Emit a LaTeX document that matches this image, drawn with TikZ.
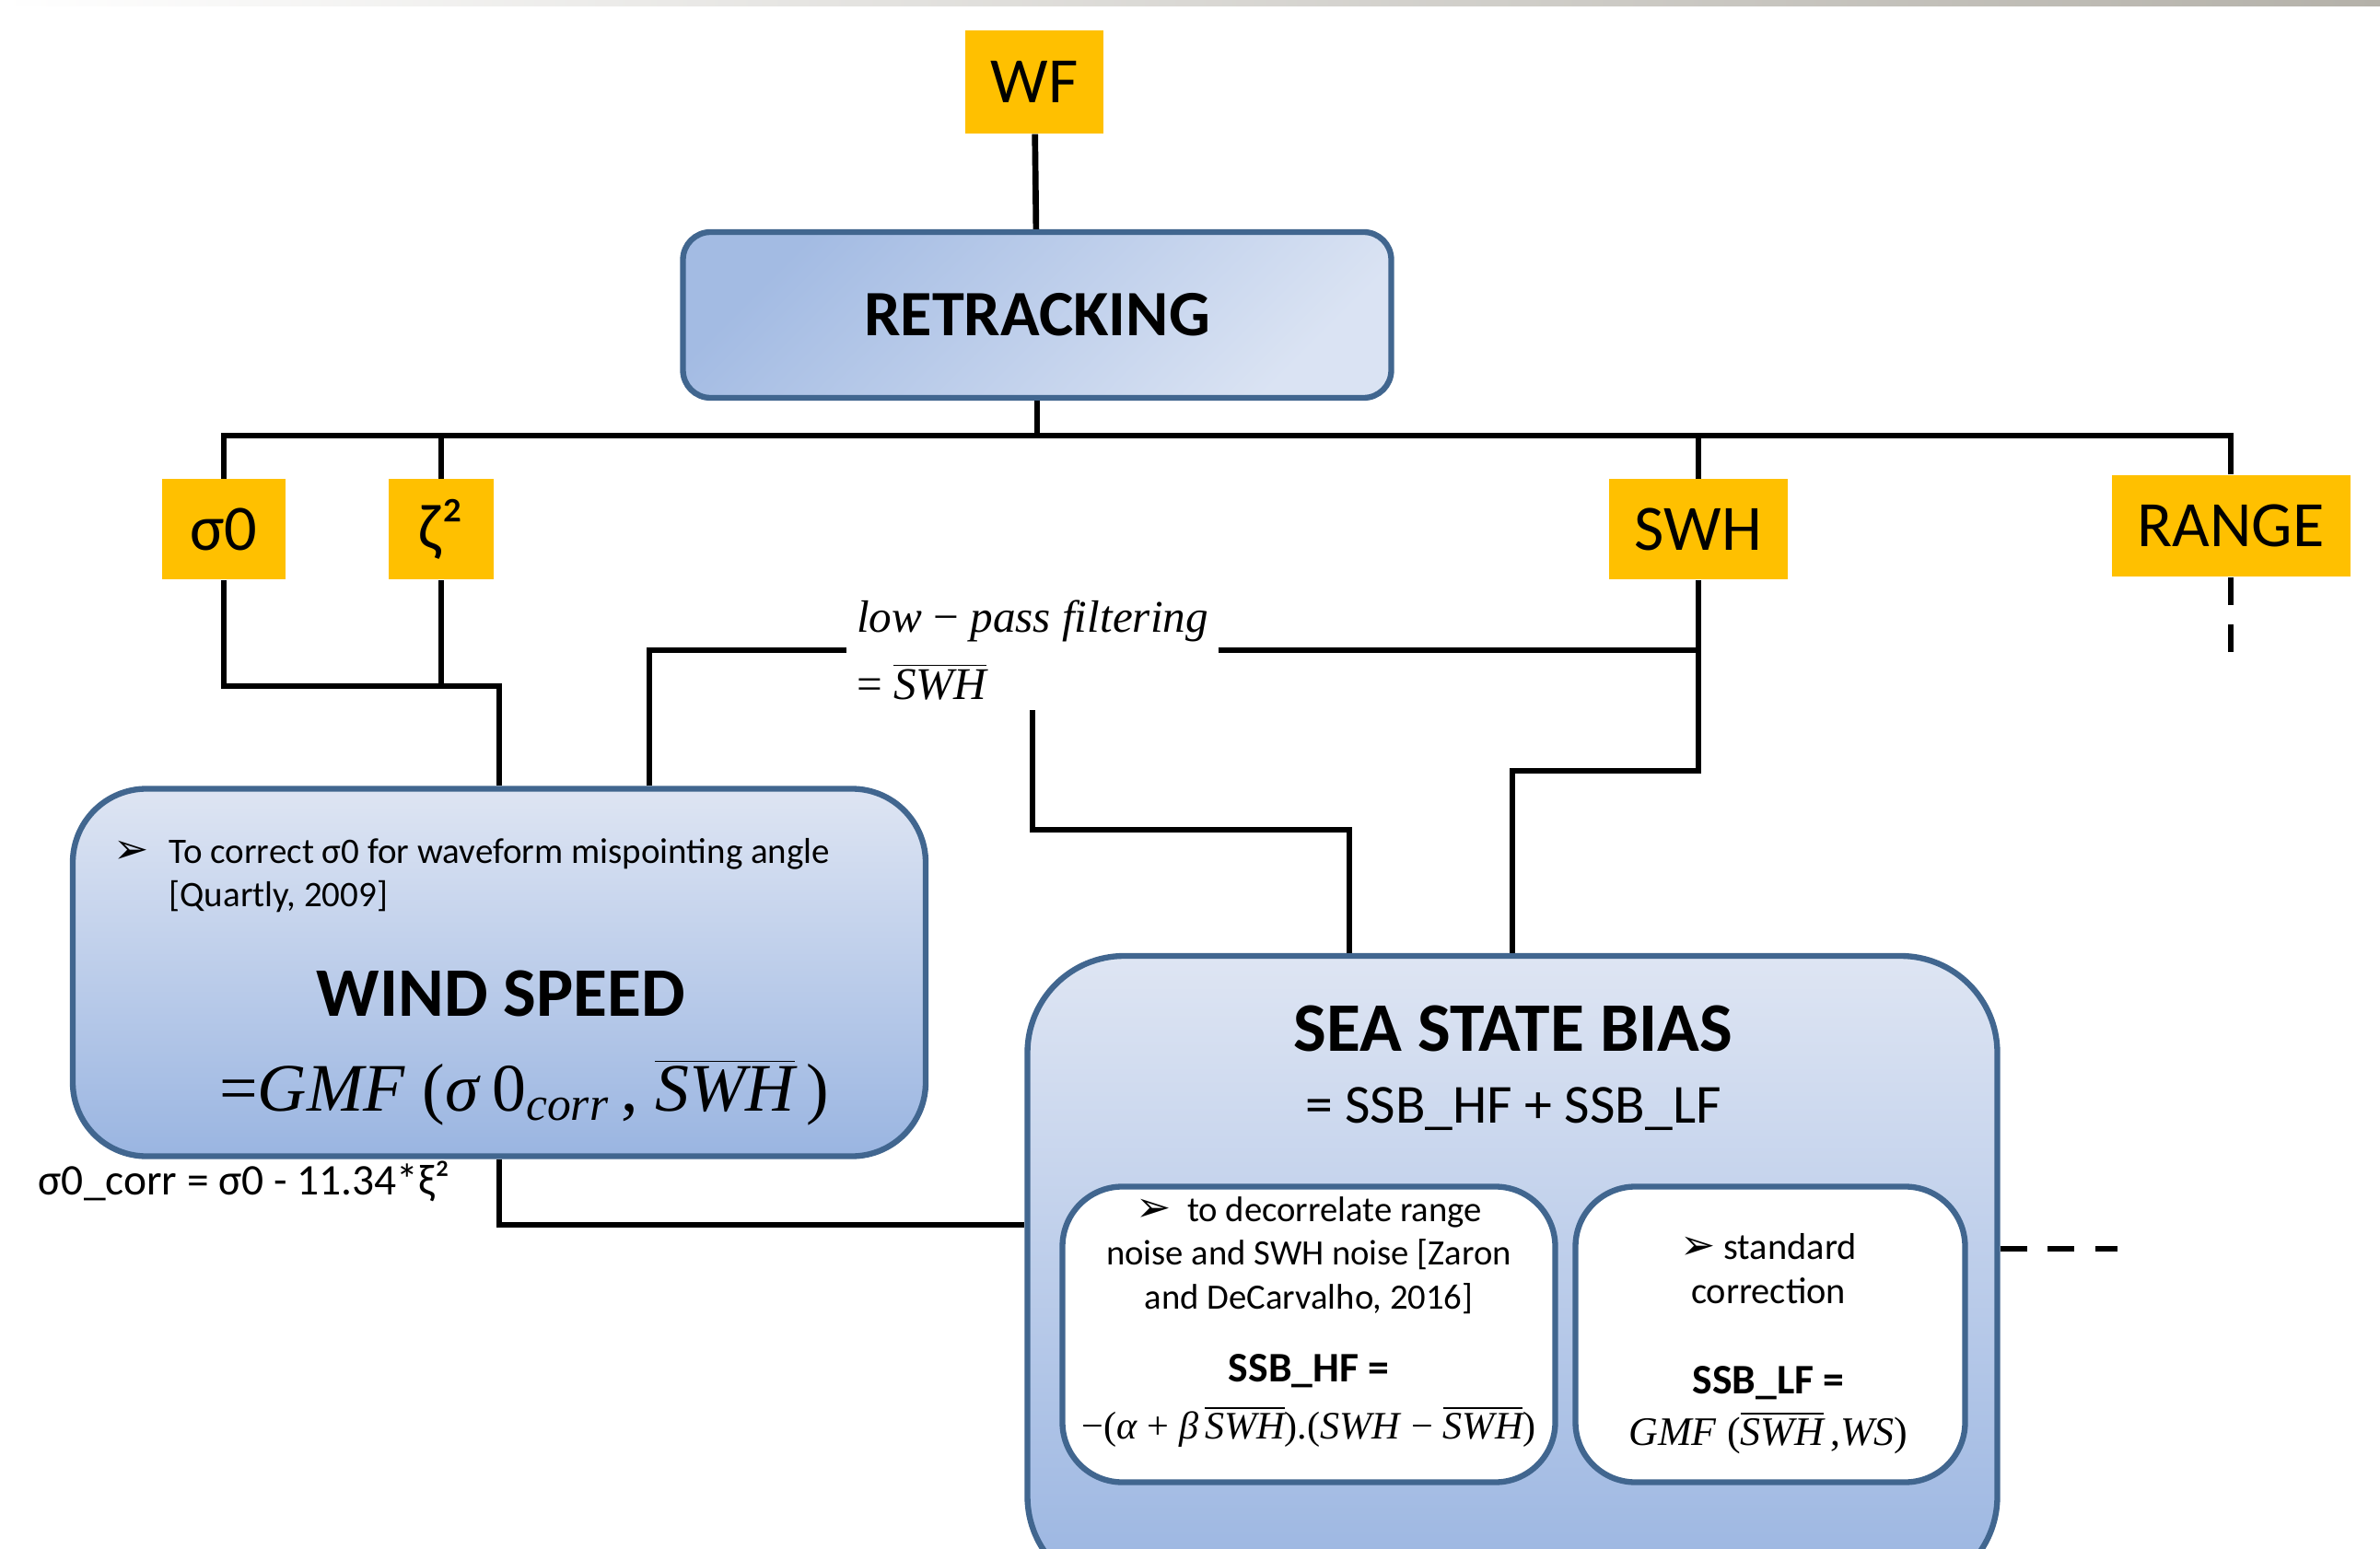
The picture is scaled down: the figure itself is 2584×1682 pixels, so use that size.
\documentclass[tikz,border=0pt]{standalone}
\usepackage{fontspec}
\setmainfont{Carlito}
\newfontfamily\tms{Liberation Serif}
\newfontfamily\dvs{DejaVu Sans}
\usepackage{tikz}
\usetikzlibrary{positioning, calc}
\definecolor{colorParam}{HTML}{FFC000}
\definecolor{colorBorder}{HTML}{41668F}
\definecolor{colorRetTop}{HTML}{A3BBE3}
\definecolor{colorRetBot}{HTML}{DAE3F3}
\definecolor{colorBoxTop}{HTML}{DEE5F3}
\definecolor{colorBoxBot}{HTML}{9AB5E1}
\definecolor{colorBand}{HTML}{B4B1A9}
\newcommand{\ovl}[1]{$\overline{\hbox{#1}}$}
\newcommand{\fs}[2]{\fontsize{#1}{#2}\selectfont}
\newcommand{\bul}{{\dvs\fs{13}{13}➢}}
\tikzset{
  param/.style={fill=colorParam, inner sep=0pt, font=\fs{20}{24}},
  block/.style={draw=colorBorder, line width=1.8pt, inner sep=0pt},
  link/.style={line width=1.9pt, black},
  txt/.style={inner sep=0pt}
}

\begin{document}
\begin{tikzpicture}[x=0.1mm, y=-0.1mm]
\useasboundingbox (0,0) rectangle (2584,1682);
\clip (0,0) rectangle (2584,1682);
\fill[white] (0,0) rectangle (2584,1682);
\shade[left color=white, right color=colorBand] (0,0) rectangle (2584,7);

\node[param, minimum width=15mm, minimum height=11.2mm] (wf) at (1123,89) {WF};
\node[block, top color=colorRetTop, bottom color=colorRetBot, shading angle=45, rounded corners=3mm, minimum width=76.9mm, minimum height=18mm, font=\bfseries\fs{20}{24}] (retracking) at (1126,342) {RETRACKING};
\node[param, minimum width=13.4mm, minimum height=10.9mm] (sig) at (243,575) {σ0};
\node[param, minimum width=11.4mm, minimum height=10.9mm] (zeta) at (479,575) {ζ²};
\node[param, minimum width=19.4mm, minimum height=10.9mm] (swh) at (1844,575) {SWH};
\node[param, minimum width=25.9mm, minimum height=11mm] (range) at (2422,571) {RANGE};

\node[txt, align=left, inner xsep=1mm, inner ysep=1mm, font=\tms\fs{14}{21}] (lpf) at (1121,706) {\textit{low} − \textit{pass filtering}\\= \ovl{\itshape SWH}};

\node[block, top color=colorBoxTop, bottom color=colorBoxBot, rounded corners=8mm, minimum width=92.6mm, minimum height=39.9mm] (wind) at (542,1056) {};
\node[txt] (windbul) at (143,925) {\bul};
\node[txt, anchor=base west, align=left, font=\fs{11.1}{13.2}] (windnote) at (183,984) {To correct σ0 for waveform mispointing angle\\{[}Quartly, 2009{]}};
\node[txt, anchor=base, font=\bfseries\fs{21.5}{26}] (windtitle) at (544,1103) {WIND SPEED};
\node[txt, anchor=base, font=\tms\fs{21}{25}] (windeq) at (569,1206) {=\textit{GMF} (\textit{σ}\,0\textsubscript{\textit{corr}}\,, \ovl{\itshape SWH}\,)};
\node[txt, anchor=base west, font=\fs{13.5}{16}] (corr) at (41,1297) {σ0\_corr = σ0 - 11.34*ξ²};

\node[block, top color=colorBoxTop, bottom color=colorBoxBot, rounded corners=10.5mm, minimum width=105.3mm, minimum height=69.2mm] (ssb) at (1642,1384) {};
\node[txt, anchor=base, font=\bfseries\fs{21.5}{26}] (ssbtitle) at (1643,1141) {SEA STATE BIAS};
\node[txt, anchor=base, font=\fs{17}{20}] (ssbsum) at (1643,1219) {= SSB\_HF + SSB\_LF};
\node[block, fill=white, rounded corners=6.5mm, minimum width=53.5mm, minimum height=32.1mm] (hf) at (1421,1449) {};
\node[block, fill=white, rounded corners=6.5mm, minimum width=42.3mm, minimum height=32.1mm] (lf) at (1922,1449) {};
\node[txt, anchor=base, align=center, font=\fs{11}{13.4}] (hfnote) at (1421,1421) {\bul\ \ to decorrelate range\\noise and SWH noise {[}Zaron\\and DeCarvalho, 2016{]}};
\node[txt, anchor=base, font=\bfseries\fs{13}{16}] (hftitle) at (1421,1500) {SSB\_HF =};
\node[txt, anchor=base, font=\tms\fs{12}{15}] (hfeq) at (1421,1562) {−(\textit{α} + \textit{β}\,\ovl{\itshape SWH}).(\textit{SWH} − \ovl{\itshape SWH})};
\node[txt, anchor=base, align=center, font=\fs{11.5}{13.4}] (lfnote) at (1920,1415) {\bul\ standard\\correction};
\node[txt, anchor=base, font=\bfseries\fs{13}{16}] (lftitle) at (1920,1513) {SSB\_LF =};
\node[txt, anchor=base, font=\tms\fs{12.5}{15}] (lfeq) at (1920,1569) {\textit{GMF} (\ovl{\itshape SWH}\,,\textit{WS})};

\coordinate (bus) at (1126,473);
\coordinate (wjoin) at (wind.north |- 0,745);
\coordinate (ljoin) at (1465,901);
\draw[link] (wf) -- (retracking);
\draw[link] (retracking) -- (bus);
\draw[link] (sig.north) |- (bus) -| (range.north);
\draw[link] (zeta.north) -- (zeta.north |- bus);
\draw[link] (swh.north) -- (swh.north |- bus);
\draw[link, dash pattern=on 8.5pt off 6.2pt] (range.south) -- ++(0,86);
\draw[link] (sig.south) |- (wjoin) -- (wind.north);
\draw[link] (zeta.south) -- (zeta.south |- wjoin);
\draw[link] (wind.north) ++(163,0) |- (lpf.west);
\draw[link] (lpf.east) -- (lpf.east -| swh.south);
\draw[link] (swh.south) |- (ssb.north |- 0,837) -- (ssb.north);
\draw[link] (lpf.south) |- (ljoin) -- (ljoin |- ssb.north);
\draw[link] (wind.south) |- (ssb.west |- 0,1330);
\draw[link, dash pattern=on 8.2pt off 6.5pt] (ssb.east |- 0,1356) -- ++(127,0);
\end{tikzpicture}
\end{document}
